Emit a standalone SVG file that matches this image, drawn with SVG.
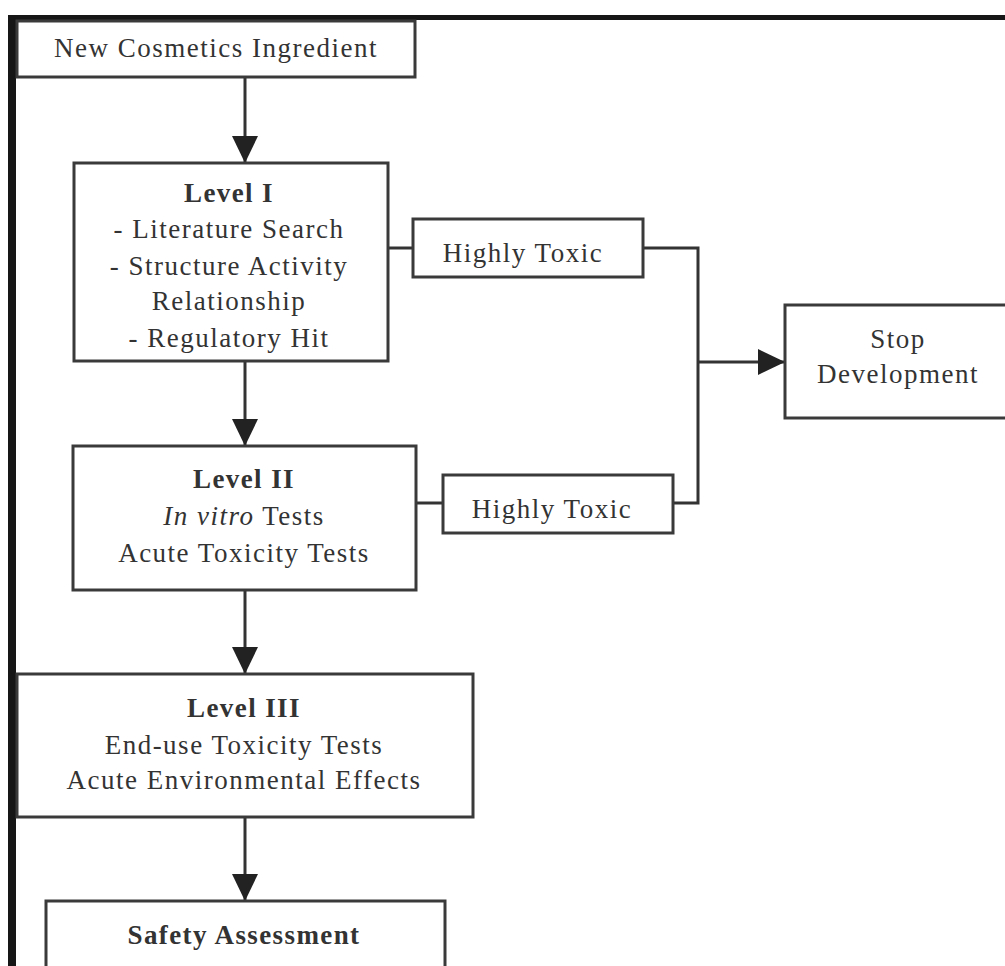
<svg xmlns="http://www.w3.org/2000/svg" width="1005" height="966" viewBox="0 0 1005 966">
<style>
.box{fill:#fff;stroke:#3a3a3a;stroke-width:3}
.t{font-family:"Liberation Serif","Times New Roman",serif;font-size:27px;fill:#333;text-anchor:middle;letter-spacing:1.5px}
.b{font-weight:bold;letter-spacing:1.4px}
.ln{fill:none;stroke:#333;stroke-width:3}
</style>
<defs>
<marker id="ah" markerUnits="userSpaceOnUse" markerWidth="28" markerHeight="28" viewBox="0 0 28 28" refX="27" refY="13" orient="auto">
<path d="M0,0 L27,13 L0,26 Z" fill="#222"/>
</marker>
</defs>
<rect width="1005" height="966" fill="#fff"/>
<g id="frame">
<rect x="8" y="15" width="997" height="5" fill="#161616"/>
<rect x="8" y="15" width="8" height="951" fill="#161616"/>
</g>
<g id="connectors">
<line class="ln" x1="245" y1="78" x2="245" y2="163" marker-end="url(#ah)"/>
<line class="ln" x1="245" y1="362" x2="245" y2="446" marker-end="url(#ah)"/>
<line class="ln" x1="245" y1="591" x2="245" y2="674" marker-end="url(#ah)"/>
<line class="ln" x1="245" y1="818" x2="245" y2="901" marker-end="url(#ah)"/>
<line class="ln" x1="388" y1="248" x2="413" y2="248"/>
<line class="ln" x1="416" y1="503" x2="443" y2="503"/>
<polyline class="ln" points="643,248 698,248 698,503 673,503"/>
<line class="ln" x1="698" y1="362" x2="785" y2="362" marker-end="url(#ah)"/>
</g>
<g id="new-ingredient">
<rect class="box" x="17" y="21" width="398" height="56"/>
<text class="t" x="216" y="57">New Cosmetics Ingredient</text>
</g>
<g id="level1">
<rect class="box" x="74" y="163" width="314" height="198"/>
<text class="t b" x="229" y="202">Level I</text>
<text class="t" x="229" y="238">- Literature Search</text>
<text class="t" x="229" y="275">- Structure Activity</text>
<text class="t" x="229" y="310">Relationship</text>
<text class="t" x="229" y="347">- Regulatory Hit</text>
</g>
<g id="toxic1">
<rect class="box" x="413" y="219" width="230" height="58"/>
<text class="t" x="523" y="262">Highly Toxic</text>
</g>
<g id="level2">
<rect class="box" x="73" y="446" width="343" height="144"/>
<text class="t b" x="244" y="488">Level II</text>
<text class="t" x="244" y="525"><tspan font-style="italic">In vitro</tspan> Tests</text>
<text class="t" x="244" y="562">Acute Toxicity Tests</text>
</g>
<g id="toxic2">
<rect class="box" x="443" y="475" width="230" height="58"/>
<text class="t" x="552" y="518">Highly Toxic</text>
</g>
<g id="stop">
<rect class="box" x="785" y="305" width="240" height="113"/>
<text class="t" x="898" y="348">Stop</text>
<text class="t" x="898" y="383">Development</text>
</g>
<g id="level3">
<rect class="box" x="17" y="674" width="456" height="143"/>
<text class="t b" x="244" y="717">Level III</text>
<text class="t" x="244" y="754">End-use Toxicity Tests</text>
<text class="t" x="244" y="789">Acute Environmental Effects</text>
</g>
<g id="safety">
<rect class="box" x="46" y="901" width="399" height="90"/>
<text class="t b" x="244" y="944">Safety Assessment</text>
</g>
</svg>
